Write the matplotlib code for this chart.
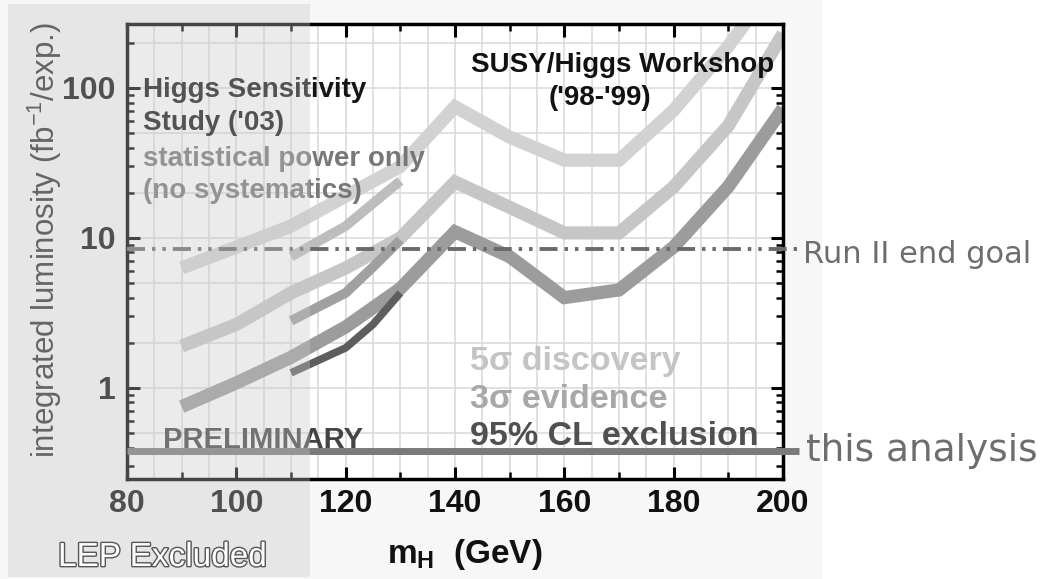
import numpy as np
import matplotlib
matplotlib.use("Agg")
import matplotlib.pyplot as plt
from matplotlib.patches import Rectangle
import matplotlib.patheffects as pe

plt.rcParams['font.family'] = ['Liberation Sans', 'DejaVu Sans']
plt.rcParams['mathtext.fontset'] = 'custom'
plt.rcParams['mathtext.rm'] = 'Liberation Sans'
plt.rcParams['mathtext.bf'] = 'Liberation Sans:bold'
plt.rcParams['lines.scale_dashes'] = False

# SUSY/Higgs Workshop ('98-'99) curves
mass_susy = [90, 100, 110, 120, 130, 140, 150, 160, 170, 180, 190, 200]
susy_5sigma = [6.3, 8.7, 12.0, 19.0, 30.0, 75.0, 47.0, 33.0, 33.0, 71.0, 190.0, 600.0]
susy_3sigma = [1.9, 2.65, 4.3, 6.3, 10.0, 23.6, 16.0, 10.8, 10.8, 21.9, 56.0, 230.0]
susy_95cl = [0.75, 1.08, 1.6, 2.55, 4.6, 11.0, 7.5, 4.0, 4.5, 8.7, 22.0, 73.0]

# Higgs Sensitivity Study ('03) curves
mass_03 = [110, 120, 125, 130]
hss_5sigma = [7.5, 12.0, 17.0, 24.0]
hss_3sigma = [2.8, 4.3, 6.4, 9.7]
hss_95cl = [1.26, 1.85, 2.65, 4.3]

run2_goal = 8.5
this_analysis = 0.38

W, H = 1061, 579
fig = plt.figure(figsize=(W / 100, H / 100), dpi=100)
fig.patch.set_facecolor('white')


def px(x, y):
    return x / W, 1 - y / H


# faint slide background
fig.add_artist(Rectangle((0, 0), 822 / W, 1, transform=fig.transFigure,
                         facecolor='#f7f7f7', edgecolor='none', zorder=-5))

ax = fig.add_axes([127 / W, 1 - 479 / H, (783 - 127) / W, (479 - 24) / H])
ax.set_facecolor('white')
ax.set_yscale('log')
ax.set_xlim(80, 200)
ax.set_ylim(0.247, 267)

# grid
ax.vlines(np.arange(85, 200, 5), 0.247, 267, color='#dcdcdc', lw=1.2, zorder=0)
grid_y = [m * 10.0 ** e for e in range(-1, 3) for m in (1, 2, 5)]
ax.hlines([g for g in grid_y if 0.25 < g < 267], 80, 200, color='#dcdcdc', lw=1.2, zorder=0)

lw_big = 9.5
ax.plot(mass_susy, susy_5sigma, color='#d2d2d2', lw=lw_big, solid_joinstyle='miter',
        solid_capstyle='butt', zorder=2)
ax.plot(mass_susy, susy_3sigma, color='#c6c6c6', lw=lw_big, solid_joinstyle='miter',
        solid_capstyle='butt', zorder=2)
ax.plot(mass_susy, susy_95cl, color='#9c9c9c', lw=lw_big, solid_joinstyle='miter',
        solid_capstyle='butt', zorder=2)

ax.plot(mass_03, hss_5sigma, color='#bdbdbd', lw=7, solid_capstyle='butt', zorder=3)
ax.plot(mass_03, hss_3sigma, color='#a0a0a0', lw=7, solid_capstyle='butt', zorder=3)
ax.plot(mass_03, hss_95cl, color='#5e5e5e', lw=5.5, solid_capstyle='butt', zorder=3)

goal, = ax.plot([80, 202.5], [run2_goal, run2_goal], color='#6a6a6a', lw=2.8,
                clip_on=False, zorder=4)
goal.set_dashes([13, 5, 2.5, 5, 2.5, 5])
ax.plot([80, 203], [this_analysis, this_analysis], color='#7a7a7a', lw=5,
        clip_on=False, solid_capstyle='butt', zorder=4)

# axes styling
for s in ax.spines.values():
    s.set_linewidth(2.5)
ax.set_xticks(range(80, 201, 20))
ax.set_xticks(range(90, 200, 20), minor=True)
ax.set_yticks([1, 10, 100])
ax.set_yticklabels(['1', '10', '100'])
ax.yaxis.set_minor_locator(matplotlib.ticker.LogLocator(subs=np.arange(2, 10)))
ax.yaxis.set_minor_formatter(matplotlib.ticker.NullFormatter())
ax.tick_params(which='major', direction='in', length=9, width=2.2, top=True, right=True)
ax.tick_params(which='minor', direction='in', length=5, width=1.8, top=True, right=True)
ax.tick_params(axis='x', labelsize=23, pad=7)
ax.tick_params(axis='y', labelsize=23, pad=8)
for lab in ax.get_xticklabels() + ax.get_yticklabels():
    lab.set_fontweight('bold')
    lab.set_color('#111111')

# labels
fig.text(*px(45, 240), 'integrated luminosity (fb$^{\\mathregular{-1}}$/exp.)', rotation=90,
         ha='center', va='center', fontsize=22.5, color='#303030')
fig.text(*px(465, 563), '$\\mathbf{m_H}$  (GeV)', ha='center', va='baseline',
         fontsize=24, fontweight='bold', color='#111111')

fig.text(*px(143, 97), 'Higgs Sensitivity', fontsize=20, fontweight='bold', color='#151515')
fig.text(*px(143, 130), "Study ('03)", fontsize=20, fontweight='bold', color='#151515')
fig.text(*px(143, 166), 'statistical power only', fontsize=20, fontweight='bold', color='#777777')
fig.text(*px(143, 198), '(no systematics)', fontsize=20, fontweight='bold', color='#777777')

fig.text(*px(623, 72), 'SUSY/Higgs Workshop', ha='center', fontsize=20, fontweight='bold',
         color='#111111')
fig.text(*px(600, 105), "('98-'99)", ha='center', fontsize=20, fontweight='bold',
         color='#111111')

fig.text(*px(470, 370), '5σ discovery', fontsize=24.5, fontweight='bold', color='#c4c4c4')
fig.text(*px(470, 408), '3σ evidence', fontsize=24.5, fontweight='bold', color='#a8a8a8')
fig.text(*px(470, 445), '95% CL exclusion', fontsize=24.5, fontweight='bold', color='#505050')
fig.text(*px(163, 448), 'PRELIMINARY', fontsize=21, fontweight='bold', color='#444444')

fig.text(*px(806, 461), 'this analysis', fontsize=27, color='#6e6e6e', family='DejaVu Sans')
fig.text(*px(803, 263), 'Run II end goal', fontsize=22, color='#6e6e6e', family='DejaVu Sans')

# LEP excluded band over everything on the left
fig.add_artist(Rectangle(px(8, 577), (310 - 8) / W, (577 - 4) / H, transform=fig.transFigure,
                         facecolor='#c8c8c8', edgecolor='none', alpha=0.35, zorder=10))
fig.text(*px(58, 566), 'LEP Excluded', fontsize=24, color='white', zorder=11,
         path_effects=[pe.withStroke(linewidth=2, foreground='#555555')])

fig.savefig('out.png', dpi=100)
